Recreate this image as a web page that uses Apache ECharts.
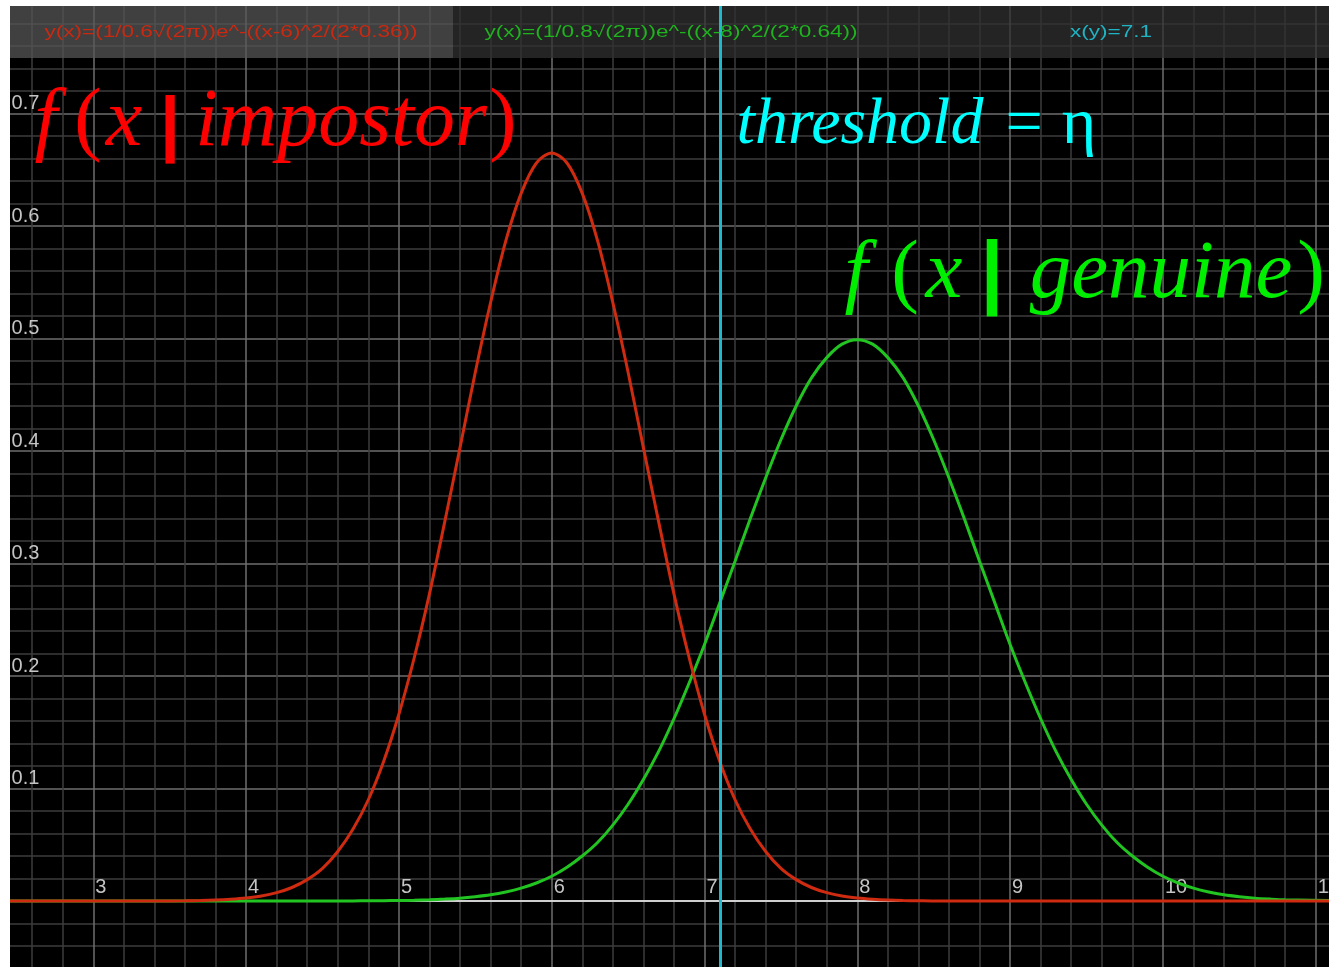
<!DOCTYPE html>
<html><head><meta charset="utf-8">
<script src="https://cdn.jsdelivr.net/npm/echarts@6/dist/echarts.min.js"></script>
<style>html,body{margin:0;padding:0;background:#fff}#c{width:1329px;height:969px}</style>
</head><body><div id="c"></div>
<script>
const xs = [2.4, 3.0, 3.4,
  3.6, 3.7, 3.8, 3.9, 4.0, 4.1, 4.2, 4.3, 4.4, 4.5,
  4.6, 4.7, 4.8, 4.9, 5.0, 5.1, 5.2, 5.3, 5.4, 5.5,
  5.6, 5.7, 5.8, 5.9, 6.0, 6.1, 6.2, 6.3, 6.4, 6.5,
  6.6, 6.7, 6.8, 6.9, 7.0, 7.1, 7.2, 7.3, 7.4, 7.5,
  7.6, 7.7, 7.8, 7.9, 8.0, 8.1, 8.2, 8.3, 8.4, 8.5,
  8.6, 8.7, 8.8, 8.9, 9.0, 9.1, 9.2, 9.3, 9.4, 9.5,
  9.6, 9.7, 9.8, 9.9, 10.0, 10.1, 10.2, 10.3, 10.4, 10.5,
  10.6, 10.7, 10.8, 11.2];
// f(x | impostor) (red curve)
const impostorY = [0, 0, 0,
  0.0002, 0.0004, 0.0008, 0.0015, 0.0026, 0.0044, 0.0074, 0.012, 0.019, 0.029,
  0.044, 0.064, 0.090, 0.124, 0.166, 0.216, 0.273, 0.337, 0.403, 0.470,
  0.532, 0.587, 0.629, 0.656, 0.665, 0.656, 0.629, 0.587, 0.532, 0.470,
  0.403, 0.337, 0.273, 0.216, 0.166, 0.124, 0.090, 0.064, 0.044, 0.029,
  0.019, 0.012, 0.0074, 0.0044, 0.0026, 0.0015, 0.0008, 0.0004, 0.0002, 0,
  0, 0, 0, 0, 0, 0, 0, 0, 0, 0,
  0, 0, 0, 0, 0, 0, 0, 0, 0, 0,
  0, 0, 0, 0];
// f(x | genuine) (green curve)
const genuineY = [0, 0, 0,
  0, 0, 0, 0, 0, 0, 0, 0, 0, 0,
  0.0001, 0.0001, 0.0002, 0.0003, 0.0004, 0.0007, 0.0011, 0.0017, 0.0025, 0.0038,
  0.0055, 0.0080, 0.0114, 0.016, 0.022, 0.030, 0.040, 0.052, 0.0675, 0.086,
  0.108, 0.133, 0.162, 0.194, 0.228, 0.265, 0.302, 0.340, 0.376, 0.410,
  0.440, 0.465, 0.483, 0.495, 0.499, 0.495, 0.483, 0.465, 0.440, 0.410,
  0.376, 0.340, 0.302, 0.265, 0.228, 0.194, 0.162, 0.133, 0.108, 0.086,
  0.0675, 0.052, 0.040, 0.030, 0.022, 0.016, 0.0114, 0.0080, 0.0055, 0.0038,
  0.0025, 0.0017, 0.0011, 0.0002];
const thresholdX = 7.1;
const xTickLabels = [3, 4, 5, 6, 7, 8, 9, 10, 11];
const yTickLabels = [0.1, 0.2, 0.3, 0.4, 0.5, 0.6, 0.7];
const headerTexts = [
  'y(x)=(1/0.6\u221A(2\u03C0))e^-((x-6)^2/(2*0.36))',
  'y(x)=(1/0.8\u221A(2\u03C0))e^-((x-8)^2/(2*0.64))',
  'x(y)=7.1'
];

const MINOR = '#3c3c3c', MAJOR = '#6e6e6e';
const near = (v, arr) => arr.find(a => Math.abs(a - v) < 1e-6);

function piece(s, x, y, size, color, o) {
  o = o || {};
  return {
    type: 'text', x: x, y: y, z: 10, silent: true, scaleX: o.scaleX || 1,
    style: {
      text: s, fill: color,
      fontFamily: o.family || '"Liberation Serif", "Times New Roman", serif',
      fontSize: size, fontStyle: o.italic ? 'italic' : 'normal',
      fontWeight: o.bold ? 'bold' : 'normal',
      align: 'center', textAlign: 'center', verticalAlign: 'middle', textVerticalAlign: 'middle'
    }
  };
}
const SANS = '"Liberation Sans", Arial, sans-serif';
const RED = '#ff0000', CY = '#00ffff', GR = '#00ee00';

const chart = echarts.init(document.getElementById('c'));
chart.setOption({
  backgroundColor: '#000',
  animation: false,
  grid: { left: 1.6, right: -2, top: 1, bottom: 0.5, containLabel: false, outerBoundsMode: 'none' },
  xAxis: {
    type: 'value', min: 2.4, max: 11.1, interval: 0.2, offset: -67.5,
    axisLine: { show: true, onZero: false, lineStyle: { color: '#cfcfcf', width: 2 } },
    axisTick: { show: false },
    axisLabel: {
      inside: true, margin: 4, align: 'left', padding: [0, 0, 0, 2],
      color: '#c4c4c4', fontSize: 20, fontFamily: SANS, hideOverlap: false,
      formatter: v => { const m = near(v, xTickLabels); return m !== undefined ? String(m) : ''; }
    },
    splitLine: { show: true, lineStyle: { width: 1.5, color: [MINOR, MINOR, MINOR, MAJOR, MINOR] } }
  },
  yAxis: {
    type: 'value', min: -0.06, max: 0.8, interval: 0.02,
    axisLine: { show: false }, axisTick: { show: false },
    axisLabel: {
      inside: true, margin: 10, verticalAlign: 'bottom',
      color: '#c4c4c4', fontSize: 20, fontFamily: SANS,
      formatter: v => { const m = near(v, yTickLabels); return m !== undefined ? m.toFixed(1) : ''; }
    },
    splitLine: { show: true, lineStyle: { width: 1.5, color: [MINOR, MINOR, MINOR, MAJOR, MINOR] } }
  },
  series: [
    { type: 'line', name: 'genuine', z: 2, showSymbol: false, smooth: 0.3,
      lineStyle: { color: '#22c422', width: 3 },
      data: xs.map((x, i) => [x, genuineY[i]]) },
    { type: 'line', name: 'impostor', z: 2, showSymbol: false, smooth: 0.3,
      lineStyle: { color: '#cf2b10', width: 3 },
      data: xs.map((x, i) => [x, impostorY[i]]) },
    { type: 'line', name: 'threshold', z: 3, data: [], silent: true,
      markLine: { silent: true, symbol: ['none', 'none'], label: { show: false },
        lineStyle: { color: '#1fb8cc', width: 3, type: 'solid' },
        data: [{ xAxis: thresholdX }] } }
  ],
  graphic: { elements: [
    { type: 'rect', z: 1, silent: true, shape: { x: 10, y: 6, width: 443, height: 52 }, style: { fill: 'rgba(86,86,86,0.74)' } },
    { type: 'rect', z: 1, silent: true, shape: { x: 453, y: 6, width: 880, height: 52 }, style: { fill: 'rgba(49,49,49,0.74)' } },
    piece(headerTexts[0], 231, 33, 16, '#cc2810', { family: SANS, scaleX: 1.41 }),
    piece(headerTexts[1], 671, 33, 16, '#1eb41e', { family: SANS, scaleX: 1.41 }),
    piece(headerTexts[2], 1111, 33, 16, '#1fb4c4', { family: SANS, scaleX: 1.41 }),
    // f(x | impostor)
    piece('f', 46, 123, 82, RED, { italic: true }),
    piece('(', 88, 123, 82, RED),
    piece('x', 124, 123, 82, RED, { italic: true }),
    piece('|', 170, 128, 72, RED, { family: SANS, bold: true }),
    piece('impostor', 341, 123, 82, RED, { italic: true }),
    piece(')', 503, 123, 82, RED),
    // threshold = eta
    piece('threshold', 860, 126, 66, CY, { italic: true }),
    piece('=', 1024, 126, 66, CY),
    piece('\u03B7', 1079, 126, 66, CY),
    // f(x | genuine)
    piece('f', 856, 275, 83, GR, { italic: true }),
    piece('(', 905, 275, 83, GR),
    piece('x', 944, 275, 83, GR, { italic: true }),
    piece('|', 992, 275, 82, GR, { family: SANS, bold: true }),
    piece('genuine', 1161, 275, 83, GR, { italic: true }),
    piece(')', 1311, 275, 83, GR),
    // white page margins
    { type: 'rect', z: 100, silent: true, shape: { x: 0, y: 0, width: 10, height: 969 }, style: { fill: '#fff' } },
    { type: 'rect', z: 100, silent: true, shape: { x: 0, y: 0, width: 1329, height: 6 }, style: { fill: '#fff' } },
    { type: 'rect', z: 100, silent: true, shape: { x: 0, y: 967, width: 1329, height: 2 }, style: { fill: '#fff' } }
  ] }
});
</script></body></html>
